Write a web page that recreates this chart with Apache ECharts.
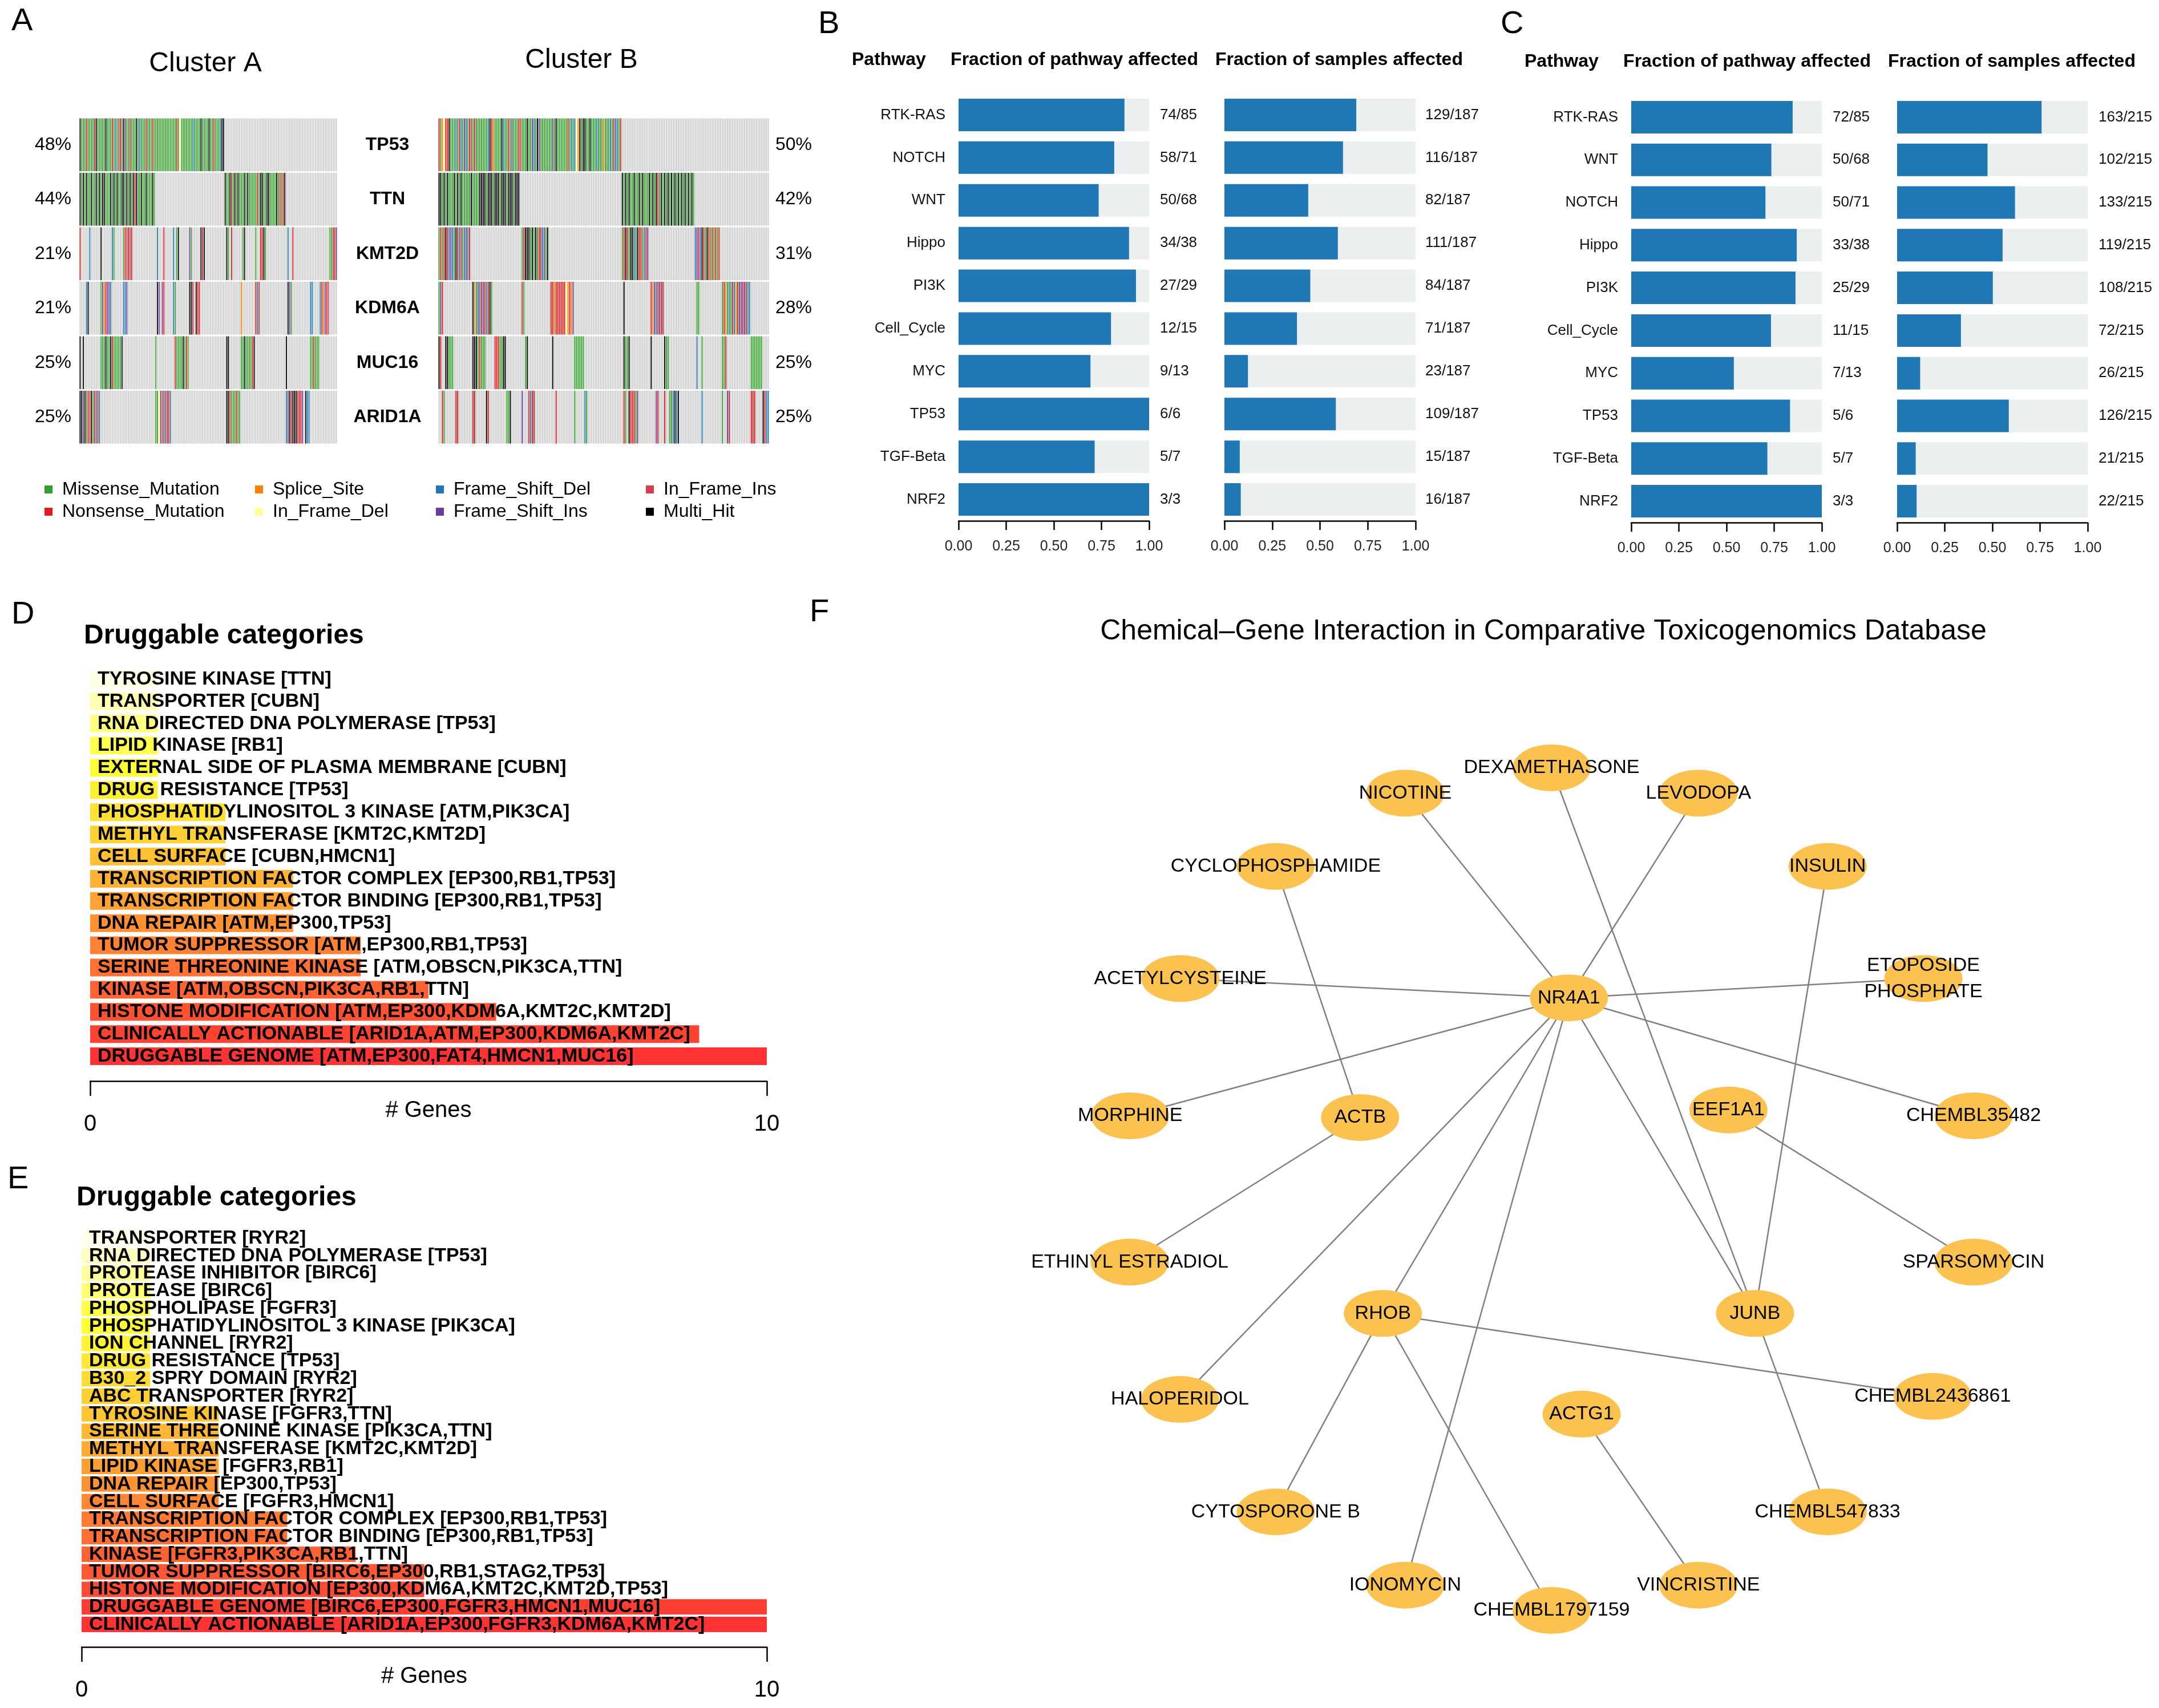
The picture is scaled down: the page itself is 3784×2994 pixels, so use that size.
<!DOCTYPE html>
<html><head><meta charset="utf-8">
<script src="https://cdn.jsdelivr.net/npm/echarts@6/dist/echarts.min.js"></script>
<style>html,body{margin:0;padding:0;background:#fff}#c{width:3784px;height:2994px}</style>
</head><body><div id="c"></div>
<script>
// ================= DATA =================
// Panel A : oncoplot
const mutationTypes = ['Missense_Mutation','Nonsense_Mutation','Splice_Site','In_Frame_Del','Frame_Shift_Del','Frame_Shift_Ins','In_Frame_Ins','Multi_Hit'];
const mutationCodes = ['M','N','S','I','D','F','R','H'];
const oncoGenes = ['TP53','TTN','KMT2D','KDM6A','MUC16','ARID1A'];
const clusterASamples = 160;
const clusterBSamples = 195;
const pctA = ['48%','44%','21%','21%','25%','25%'];
const pctB = ['50%','42%','31%','28%','25%','25%'];
// "start:codes" segments per gene (sample column -> mutation code)
const clusterARows = [
  "0:HMMMNMMMMN 10:HMMMMMHMMM 20:NMDMRNMHFM 30:MNMMMHMDMM 40:MNMMMNMMMM 50:MMMMMMMMMM 60:NMIMMMMMMM 70:DMMMMHMMMM 80:HMMNMMMDHH",
  "0:HMHMHMMHMM 10:HMHMHHMMMH 20:MHMHMMHHMH 30:MHMHNHMMHM 40:MHMMMHM 90:HMMHNMHMHM 100:MMHMHMMMMM 110:NMHHMMHHMM 120:MMHMNMNH",
  "0:N 6:D 13:H 20:DM 27:MNRNRN 48:D 52:N 58:D 60:MH 68:FM 75:HNH 91:HM 94:N 101:MH 109:M 112:NNHM 129:D 132:N 155:MMNNF",
  "4:DH 13:MFSNFFD 27:DDF 48:HF 51:FN 58:DM 68:HHN 72:HNN 100:S 109:NDN 129:HFM 143:DD 149:DNSFNR",
  "0:H 2:H 13:MMMHMMHNMMMMMH 47:M 59:NMMMMHMNM 91:HH 100:MMHMMMMNH 128:H 143:MMNMMM",
  "0:HHFHMNRHMNDND 47:MMINDNDNND 91:HHNMMMNMM 128:DFHNHHHNNNF 140:HDD"
];
const clusterBRows = [
  "0:NMSINNHMMM 10:DMNDMFDMNR 20:MNMMMMMMMD 30:HNSMMMMHDM 40:MNMFMMMNRM 50:MMHMMFDMHF 60:MMMMMMMFMH 70:MMMMMMNMDM 80:DISHMHHMMH 90:MMMDMMMSMM 100:MDMNDDMN",
  "0:HHMHMHMMMH 10:MHMHMMMMMH 20:MMMMHHHHMH 30:HHMHHHMHHH 40:MHHHMHHH 108:HMHMHMMHMM 118:HMHMMMHMHM 128:HNMHMHMHMH 138:MHMHMHMHMH 148:MHM",
  "0:MNMNHNDFDMHNDNMDFDN 49:MNHHHMHMHMNNDFMH 108:MNHNMHHDMHNNMDNF 151:DFNDHNMHNMNMNMN",
  "0:MFN 20:HSMFDNFNDNHM 49:NM 66:NNSNNNNNNISNSF 109:H 125:NSFDNFNN 152:MM 167:MNSMDMNDSNFFNFNDD",
  "0:HN 4:HHMMM 20:HHHMNMMM 33:NNNMMHH 51:MH 67:H 80:MMMMMM 109:HMMH 125:H 133:HMM 152:D 155:M 167:MMN 184:MMMMMMM",
  "2:NM 10:NN 20:NN 28:HN 40:MMH 49:F 53:NDNN 69:N 80:M 86:DM 109:NM 112:HNNNMF 128:FN 133:N 136:MMDHDH 155:D 167:M 170:FN 184:NNN 191:HNDD"
];

// Panel B
const pathwaysB = ['RTK-RAS','NOTCH','WNT','Hippo','PI3K','Cell_Cycle','MYC','TP53','TGF-Beta','NRF2'];
const pathAffB = [74,58,50,34,27,12,9,6,5,3];
const pathSizeB = [85,71,68,38,29,15,13,6,7,3];
const sampAffB = [129,116,82,111,84,71,23,109,15,16];
const sampTotalB = 187;
// Panel C
const pathwaysC = ['RTK-RAS','WNT','NOTCH','Hippo','PI3K','Cell_Cycle','MYC','TP53','TGF-Beta','NRF2'];
const pathAffC = [72,50,50,33,25,11,7,5,5,3];
const pathSizeC = [85,68,71,38,29,15,13,6,7,3];
const sampAffC = [163,102,133,119,108,72,26,126,21,22];
const sampTotalC = 215;

// Panel D
const drugCatD = ['TYROSINE KINASE [TTN]','TRANSPORTER [CUBN]','RNA DIRECTED DNA POLYMERASE [TP53]','LIPID KINASE [RB1]','EXTERNAL SIDE OF PLASMA MEMBRANE [CUBN]','DRUG RESISTANCE [TP53]','PHOSPHATIDYLINOSITOL 3 KINASE [ATM,PIK3CA]','METHYL TRANSFERASE [KMT2C,KMT2D]','CELL SURFACE [CUBN,HMCN1]','TRANSCRIPTION FACTOR COMPLEX [EP300,RB1,TP53]','TRANSCRIPTION FACTOR BINDING [EP300,RB1,TP53]','DNA REPAIR [ATM,EP300,TP53]','TUMOR SUPPRESSOR [ATM,EP300,RB1,TP53]','SERINE THREONINE KINASE [ATM,OBSCN,PIK3CA,TTN]','KINASE [ATM,OBSCN,PIK3CA,RB1,TTN]','HISTONE MODIFICATION [ATM,EP300,KDM6A,KMT2C,KMT2D]','CLINICALLY ACTIONABLE [ARID1A,ATM,EP300,KDM6A,KMT2C]','DRUGGABLE GENOME [ATM,EP300,FAT4,HMCN1,MUC16]'];
const drugCountD = [1,1,1,1,1,1,2,2,2,3,3,3,4,4,5,6,9,10];
// Panel E
const drugCatE = ['TRANSPORTER [RYR2]','RNA DIRECTED DNA POLYMERASE [TP53]','PROTEASE INHIBITOR [BIRC6]','PROTEASE [BIRC6]','PHOSPHOLIPASE [FGFR3]','PHOSPHATIDYLINOSITOL 3 KINASE [PIK3CA]','ION CHANNEL [RYR2]','DRUG RESISTANCE [TP53]','B30_2 SPRY DOMAIN [RYR2]','ABC TRANSPORTER [RYR2]','TYROSINE KINASE [FGFR3,TTN]','SERINE THREONINE KINASE [PIK3CA,TTN]','METHYL TRANSFERASE [KMT2C,KMT2D]','LIPID KINASE [FGFR3,RB1]','DNA REPAIR [EP300,TP53]','CELL SURFACE [FGFR3,HMCN1]','TRANSCRIPTION FACTOR COMPLEX [EP300,RB1,TP53]','TRANSCRIPTION FACTOR BINDING [EP300,RB1,TP53]','KINASE [FGFR3,PIK3CA,RB1,TTN]','TUMOR SUPPRESSOR [BIRC6,EP300,RB1,STAG2,TP53]','HISTONE MODIFICATION [EP300,KDM6A,KMT2C,KMT2D,TP53]','DRUGGABLE GENOME [BIRC6,EP300,FGFR3,HMCN1,MUC16]','CLINICALLY ACTIONABLE [ARID1A,EP300,FGFR3,KDM6A,KMT2C]'];
const drugCountE = [1,1,1,1,1,1,1,1,1,1,2,2,2,2,2,2,3,3,4,5,5,10,10];

// Panel F : network (layout coordinates, unit circle)
const netNodes = ['NR4A1','DEXAMETHASONE','NICOTINE','LEVODOPA','CYCLOPHOSPHAMIDE','INSULIN','ACETYLCYSTEINE','ETOPOSIDE\nPHOSPHATE','MORPHINE','ACTB','EEF1A1','CHEMBL35482','ETHINYL ESTRADIOL','SPARSOMYCIN','RHOB','JUNB','HALOPERIDOL','CHEMBL2436861','ACTG1','CYTOSPORONE B','CHEMBL547833','IONOMYCIN','CHEMBL1797159','VINCRISTINE'];
const netLayoutX = [0.041,0.0,-0.347,0.348,-0.654,0.654,-0.880,0.881,-0.999,-0.454,0.419,1.0,-1.0,1.0,-0.400,0.482,-0.881,0.903,0.071,-0.654,0.654,-0.347,0.0,0.348];
const netLayoutY = [-0.454,-1.0,-0.940,-0.940,-0.766,-0.766,-0.500,-0.500,-0.174,-0.170,-0.188,-0.174,0.173,0.173,0.295,0.295,0.499,0.492,0.534,0.766,0.766,0.940,1.0,0.940];
const netEdges = [
  ['NR4A1','NICOTINE'],['NR4A1','LEVODOPA'],['NR4A1','ACETYLCYSTEINE'],['NR4A1','ETOPOSIDE\nPHOSPHATE'],
  ['NR4A1','MORPHINE'],['NR4A1','CHEMBL35482'],['NR4A1','HALOPERIDOL'],['NR4A1','RHOB'],
  ['NR4A1','IONOMYCIN'],['NR4A1','JUNB'],['DEXAMETHASONE','JUNB'],['INSULIN','JUNB'],
  ['JUNB','CHEMBL547833'],['CYCLOPHOSPHAMIDE','ACTB'],['ACTB','ETHINYL ESTRADIOL'],['EEF1A1','SPARSOMYCIN'],
  ['RHOB','CHEMBL2436861'],['RHOB','CYTOSPORONE B'],['RHOB','CHEMBL1797159'],['ACTG1','VINCRISTINE']
];

// ================= STYLE =================
const FONT = 'Liberation Sans, Arial, Helvetica, sans-serif';
const mutationColors = ['#33A02C','#E31A1C','#FF7F00','#FFFF99','#1F78B4','#6A3D9A','#D53E4F','#000000'];
const NOMUT = '#CCCCCC';
const BLUE = '#1F78B4';
const BARBG = '#ECEFEF';

function hsv(h, s, v) {
  const i = Math.floor(h * 6), f = h * 6 - i, p = v * (1 - s), q = v * (1 - f * s), t = v * (1 - (1 - f) * s);
  switch (i % 6) {
    case 0: return [v, t, p]; case 1: return [q, v, p]; case 2: return [p, v, t];
    case 3: return [p, q, v]; case 4: return [t, p, v]; default: return [v, p, q];
  }
}
// R heat.colors, drawn with alpha 0.8 over white
function heatColors(n) {
  const j = Math.floor(n / 4), i = n - j, out = [];
  for (let k = 0; k < i; k++) out.push(hsv(i > 1 ? k / (i - 1) / 6 : 0, 1, 1));
  const s0 = 1 - 1 / (2 * j), s1 = 1 / (2 * j);
  for (let k = 0; k < j; k++) out.push(hsv(1 / 6, j > 1 ? s0 + (s1 - s0) * k / (j - 1) : s0, 1));
  return out.map(c => 'rgb(' + c.map(x => Math.round(255 * (0.2 + 0.8 * x))).join(',') + ')');
}

function buildCells(rows, n) {
  const cells = [];
  rows.forEach((row, g) => {
    const codes = new Array(n).fill(-1);
    row.split(/\s+/).filter(Boolean).forEach(seg => {
      const parts = seg.split(':'); const st = +parts[0], str = parts[1];
      for (let k = 0; k < str.length; k++) codes[st + k] = mutationCodes.indexOf(str[k]);
    });
    codes.forEach((c, s) => cells.push([s, g, c]));
  });
  return cells;
}
function renderCell(params, api) {
  const p = api.coord([api.value(0), api.value(1)]);
  const sz = api.size([1, 1]);
  const code = api.value(2);
  const w = Math.max(sz[0] - 1.0, 0.5), h = sz[1] - 3;
  return { type: 'rect', shape: { x: p[0] - w / 2, y: p[1] - h / 2, width: w, height: h },
           style: { fill: code < 0 ? NOMUT : mutationColors[code] } };
}

const sampleIdx = n => Array.from({ length: n }, (_, i) => String(i));

// ---------- grids ----------
const G = (left, top, width, height) => ({ left, top, width, height, containLabel: false, outerBoundsMode: 'none' });
const grids = [
  G(139, 206, 452, 573),    // 0 cluster A
  G(768, 206, 580, 573),    // 1 cluster B
  G(1680, 164, 334, 749),   // 2 B pathway
  G(2146, 164, 335, 749),   // 3 B samples
  G(2859, 168, 334, 748),   // 4 C pathway
  G(3325, 168, 334, 748),   // 5 C samples
  G(158, 1171, 1186, 700),  // 6 D
  G(143, 2155, 1201, 708),  // 7 E
  G(1980, 1346, 1479, 1477) // 8 F
];

const fracAxis = gi => ({
  type: 'value', gridIndex: gi, min: 0, max: 1, interval: 0.25,
  axisLine: { show: true, onZero: false, lineStyle: { color: '#000', width: 2.5 } },
  axisTick: { show: true, length: 16, lineStyle: { color: '#000', width: 2.5 } },
  axisLabel: { fontSize: 25, color: '#222', margin: 33, fontFamily: FONT, formatter: v => v.toFixed(2) },
  splitLine: { show: false }
});
const geneAxis = gi => ({
  type: 'value', gridIndex: gi, min: 0, max: 10, interval: 10, offset: 24,
  axisLine: { show: true, onZero: false, lineStyle: { color: '#000', width: 2.5 } },
  axisTick: { show: true, length: 26, lineStyle: { color: '#000', width: 2.5 } },
  axisLabel: { fontSize: 40, color: '#000', margin: 56, fontFamily: FONT },
  splitLine: { show: false },
  name: '# Genes', nameLocation: 'middle', nameGap: 32, nameMoveOverlap: false,
  nameTextStyle: { fontSize: 40, color: '#000', fontFamily: FONT }
});
const catAxis = (gi, data, extra) => Object.assign({
  type: 'category', gridIndex: gi, data, inverse: true,
  axisLine: { show: false }, axisTick: { show: false }, splitLine: { show: false }
}, extra);
const lbl = (size, margin, extra) => Object.assign({ show: true, interval: 0, fontSize: size, color: '#111', margin, fontFamily: FONT }, extra);

const fracLabels = (a, b) => a.map((v, i) => v + '/' + (Array.isArray(b) ? b[i] : b));

const xAxes = [
  { type: 'category', gridIndex: 0, data: sampleIdx(clusterASamples), show: false },
  { type: 'category', gridIndex: 1, data: sampleIdx(clusterBSamples), show: false },
  fracAxis(2), fracAxis(3), fracAxis(4), fracAxis(5),
  geneAxis(6), geneAxis(7),
  { type: 'value', gridIndex: 8, min: -1, max: 1, show: false }
];
const yAxes = [
  catAxis(0, oncoGenes, { axisLabel: lbl(32, 14, { color: '#000', formatter: (v, i) => pctA[i] }) }),            // 0
  catAxis(1, oncoGenes, { axisLabel: lbl(32, 89, { color: '#000', fontWeight: 'bold', align: 'center' }) }),      // 1
  catAxis(1, pctB, { position: 'right', axisLabel: lbl(32, 11, { color: '#000', align: 'left' }) }),               // 2
  catAxis(2, pathwaysB, { axisLabel: lbl(26, 23) }),                                                               // 3
  catAxis(2, fracLabels(pathAffB, pathSizeB), { position: 'right', axisLabel: lbl(26, 19, { align: 'left' }) }),   // 4
  catAxis(3, pathwaysB, { axisLabel: { show: false } }),                                                           // 5
  catAxis(3, fracLabels(sampAffB, sampTotalB), { position: 'right', axisLabel: lbl(26, 17, { align: 'left' }) }),  // 6
  catAxis(4, pathwaysC, { axisLabel: lbl(26, 23) }),                                                               // 7
  catAxis(4, fracLabels(pathAffC, pathSizeC), { position: 'right', axisLabel: lbl(26, 19, { align: 'left' }) }),   // 8
  catAxis(5, pathwaysC, { axisLabel: { show: false } }),                                                           // 9
  catAxis(5, fracLabels(sampAffC, sampTotalC), { position: 'right', axisLabel: lbl(26, 19, { align: 'left' }) }),  // 10
  catAxis(6, drugCatD, { show: false }),                                                                           // 11
  catAxis(7, drugCatE, { show: false }),                                                                           // 12
  { type: 'value', gridIndex: 8, min: -1, max: 1, inverse: true, show: false }                                     // 13
];

const pathBar = (xi, yi, aff, tot) => ({
  type: 'bar', xAxisIndex: xi, yAxisIndex: yi,
  data: aff.map((v, i) => v / (Array.isArray(tot) ? tot[i] : tot)),
  barWidth: 57, itemStyle: { color: BLUE }, showBackground: true, backgroundStyle: { color: BARBG },
  silent: true
});
const drugBar = (xi, yi, cats, counts, bw) => {
  const pal = heatColors(cats.length);
  return {
    type: 'bar', xAxisIndex: xi, yAxisIndex: yi, barWidth: bw, silent: true,
    data: counts.map((v, i) => ({ value: v, itemStyle: { color: pal[cats.length - 1 - i] } })),
    label: { show: true, position: 'insideLeft', distance: 13, formatter: '{b}', color: '#000',
             fontWeight: 'bold', fontSize: 34, fontFamily: FONT, overflow: 'none' },
    labelLayout: { hideOverlap: false }
  };
};

const ELLIPSE = 'path://M0,30 A50,30 0 1,1 100,30 A50,30 0 1,1 0,30 Z';

const series = [
  { type: 'custom', xAxisIndex: 0, yAxisIndex: 0, renderItem: renderCell, data: buildCells(clusterARows, clusterASamples), encode: { x: 0, y: 1 }, silent: true },
  { type: 'custom', xAxisIndex: 1, yAxisIndex: 1, renderItem: renderCell, data: buildCells(clusterBRows, clusterBSamples), encode: { x: 0, y: 1 }, silent: true },
  pathBar(2, 3, pathAffB, pathSizeB),
  pathBar(3, 5, sampAffB, sampTotalB),
  pathBar(4, 7, pathAffC, pathSizeC),
  pathBar(5, 9, sampAffC, sampTotalC),
  drugBar(6, 11, drugCatD, drugCountD, 31),
  drugBar(7, 12, drugCatE, drugCountE, 27),
  {
    type: 'graph', coordinateSystem: 'cartesian2d', xAxisIndex: 8, yAxisIndex: 13, layout: 'none',
    data: netNodes.map((n, i) => ({ name: n, value: [netLayoutX[i], netLayoutY[i]] })),
    links: netEdges.map(e => ({ source: e[0], target: e[1] })),
    symbol: ELLIPSE, symbolSize: [137, 82], edgeSymbol: ['none', 'none'],
    itemStyle: { color: '#FCC24F' },
    lineStyle: { color: '#808080', width: 2.5, opacity: 1, curveness: 0 },
    label: { show: true, position: 'inside', color: '#000', fontSize: 34, fontFamily: FONT, lineHeight: 46 },
    emphasis: { disabled: true }, silent: true, roam: false
  }
];

// ---------- free texts ----------
const T = (text, x, y, size, opts) => ({
  type: 'text', x, y, silent: true,
  style: Object.assign({ text, fontSize: size, fontFamily: FONT, fill: '#000', fontWeight: 'normal',
    textAlign: 'left', textVerticalAlign: 'middle', align: 'left', verticalAlign: 'middle' }, opts || {})
});
const C = { textAlign: 'center', align: 'center' };
const B = { fontWeight: 'bold' };
const graphics = [
  T('A', 20, 38, 56), T('B', 1434, 43, 56), T('C', 2630, 43, 56),
  T('D', 20, 1078, 56), T('E', 13, 2068, 56), T('F', 1419, 1074, 56),
  T('Cluster A', 360, 112, 48, C), T('Cluster B', 1019, 106, 48, C),
  T('Pathway', 1493, 105, 32, B), T('Fraction of pathway affected', 1883, 105, 32, Object.assign({}, B, C)), T('Fraction of samples affected', 2347, 105, 32, Object.assign({}, B, C)),
  T('Pathway', 2672, 108, 32, B), T('Fraction of pathway affected', 3062, 108, 32, Object.assign({}, B, C)), T('Fraction of samples affected', 3526, 108, 32, Object.assign({}, B, C)),
  T('Druggable categories', 147, 1115, 48, B), T('Druggable categories', 134, 2100, 48, B),
  T('Chemical\u2013Gene Interaction in Comparative Toxicogenomics Database', 2705, 1107, 50, C)
];
const legX = [78, 447, 764, 1132], legY = [858, 897];
mutationTypes.forEach((m, i) => {
  const cx = legX[Math.floor(i / 2)], cy = legY[i % 2];
  graphics.push({ type: 'rect', silent: true, shape: { x: cx, y: cy - 7, width: 14, height: 14 }, style: { fill: mutationColors[i] } });
  graphics.push(T(m, cx + 31, cy, 32));
});

const chart = echarts.init(document.getElementById('c'), null, { renderer: 'canvas' });
chart.setOption({
  animation: false,
  backgroundColor: '#fff',
  textStyle: { fontFamily: FONT },
  grid: grids, xAxis: xAxes, yAxis: yAxes, series, graphic: graphics
});
</script></body></html>
